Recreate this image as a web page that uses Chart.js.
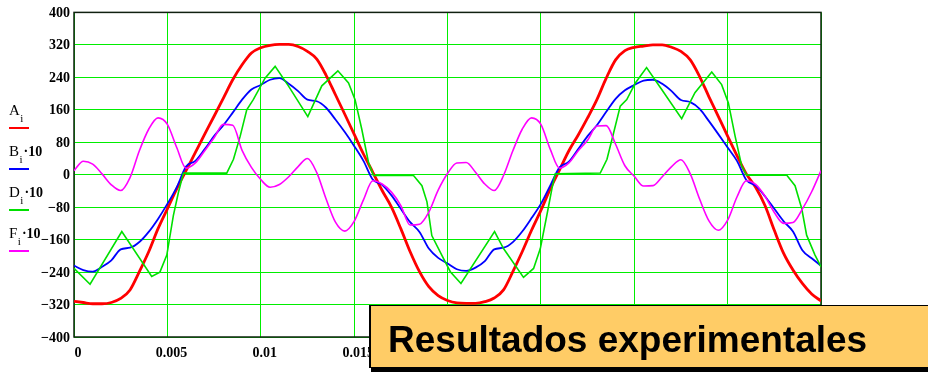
<!DOCTYPE html>
<html>
<head>
<meta charset="utf-8">
<script src="https://cdn.jsdelivr.net/npm/chart.js@4.4.1/dist/chart.umd.min.js"></script>
<style>
  html, body { margin: 0; padding: 0; background: #fff; }
  body { width: 928px; height: 375px; overflow: hidden; position: relative; }
  #chart { position: absolute; left: 0; top: 0; }
  #note {
    position: absolute; left: 369px; top: 305px; width: 600px; height: 61px;
    background: #ffcc66; border: 1px solid #000; border-left-width: 2px;
    box-shadow: 2px 4px 0 #000;
  }
  #note span {
    position: absolute; left: 17px; top: 15px;
    font: bold 37px "Liberation Sans", Arial, sans-serif; line-height: 37px;
    color: #000; white-space: nowrap;
  }
</style>
</head>
<body>
<canvas id="chart" width="928" height="375"></canvas>
<div id="note"><span>Resultados experimentales</span></div>
<script>
// sample times (s) shared by A, B and F
const tA = [0,0.0005,0.001,0.0015,0.002,0.0025,0.003,0.0035,0.004,0.0045,
  0.005,0.0055,0.006,0.0065,0.007,0.0075,0.008,0.0085,0.009,0.0095,
  0.01,0.0105,0.011,0.0115,0.012,0.0125,0.013,0.0135,0.014,0.0145,
  0.015,0.0155,0.016,0.0165,0.017,0.0175,0.018,0.0185,0.019,0.0195,
  0.02,0.0205,0.021,0.0215,0.022,0.0225,0.023,0.0235,0.024,0.0245,
  0.025,0.0255,0.026,0.0265,0.027,0.0275,0.028,0.0285,0.029,0.0295,
  0.03,0.0305,0.031,0.0315,0.032,0.0325,0.033,0.0335,0.034,0.0345,
  0.035,0.0355,0.036,0.0365,0.037,0.0375,0.038,0.0385,0.039,0.0395,0.04];

// A_i
const aVals = [-312,-315,-318,-318,-315,-305,-284,-239,-190,-133,
  -84,-35,10,55,100,144,189,234,271,300,
  313,319,321,321,316,304,285,245,197,149,
  100,51,6,-39,-80,-133,-190,-239,-276,-298,
  -310,-316,-317,-317,-313,-304,-284,-239,-190,-137,
  -88,-35,12,59,98,140,185,238,283,306,
  314,317,320,320,314,304,283,242,192,144,
  95,47,2,-31,-76,-137,-194,-235,-268,-294,-311];

// B_i*10
const bVals = [-224,-235,-239,-227,-211,-184,-180,-166,-141,-109,
  -72,-31,20,34,63,95,122,153,185,210,
  221,234,238,224,206,185,181,165,136,105,
  71,34,-12,-25,-51,-84,-117,-141,-182,-205,
  -219,-233,-237,-229,-213,-184,-180,-166,-140,-107,
  -72,-27,18,32,63,95,122,155,187,208,
  221,232,234,224,206,184,179,162,132,100,
  67,34,-13,-27,-53,-84,-115,-140,-186,-206,-224];

// F_i*10
const fVals = [10,33,26,2,-25,-39,-7,59,112,140,
  124,67,16,29,59,91,124,122,60,18,
  -12,-31,-24,-5,20,40,5,-60,-117,-139,
  -115,-62,-15,-23,-43,-76,-124,-122,-92,-38,
  3,29,30,6,-23,-39,-2,59,112,140,
  124,63,16,29,59,85,120,121,75,22,
  -4,-28,-27,-5,20,37,2,-60,-114,-137,
  -112,-55,-15,-24,-53,-93,-120,-118,-85,-42,10];

// D_i*10 (own break points, it is piecewise straight)
const dTimes = [0,0.00086,0.00256,0.00416,0.0046,0.00497,0.00532,0.00559,0.00586,0.00818,
  0.00854,0.0089,0.00925,0.0096,0.01023,0.01077,0.01148,0.01252,0.01327,0.01413,
  0.0147,0.01505,0.01541,0.01577,0.01604,0.01818,0.01863,0.0189,0.01916,0.0197,
  0.02015,0.02072,0.02252,0.023,0.02407,0.02461,0.02497,0.02532,0.02559,0.02577,
  0.02818,0.02854,0.0289,0.02925,0.0296,0.03006,0.03066,0.03147,0.03254,0.03325,
  0.03415,0.03468,0.03504,0.0354,0.03575,0.03602,0.03816,0.03861,0.03897,0.03923,
  0.03968,0.04];
const dVals = [-231,-270,-140,-251,-240,-198,-101,-44,4,4,
  38,95,160,185,238,267,219,143,219,256,
  226,185,112,30,-2,-2,-27,-67,-150,-199,
  -239,-268,-140,-182,-253,-231,-182,-100,-35,2,
  4,38,104,169,185,226,264,210,138,202,
  253,222,177,95,22,-1,-1,-27,-84,-149,
  -198,-227];

const seriesNames = ['A', 'B', 'D', 'F'];
const seriesScale = ['', '\u00b710', '\u00b710', '\u00b710'];
const seriesColors = ['#ff0000', '#0000ff', '#00e000', '#ff00ff'];

const yMin = -400, yMax = 400, yStep = 80;
const xMin = 0, xMax = 0.04, xStep = 0.005;

function pairs(times, vals) {
  return times.map((t, i) => ({ x: t, y: vals[i] }));
}

// dark frame round the plot
const framePlugin = {
  id: 'frame',
  beforeDatasetsDraw(chart) {
    const { ctx, chartArea: a } = chart;
    ctx.save();
    ctx.strokeStyle = '#102010';
    ctx.lineWidth = 1.5;
    ctx.strokeRect(a.left, a.top, a.right - a.left, a.bottom - a.top);
    ctx.restore();
  }
};

// Mathcad style legend on the left
const sideLegend = {
  id: 'sideLegend',
  afterDraw(chart) {
    const ctx = chart.ctx;
    ctx.save();
    ctx.fillStyle = '#000';
    ctx.textBaseline = 'alphabetic';
    seriesNames.forEach((name, i) => {
      const base = 115 + 41 * i;
      let x = 9;
      ctx.font = '15px "Liberation Serif"';
      ctx.fillText(name, x, base);
      x += ctx.measureText(name).width + 0.5;
      ctx.font = '11px "Liberation Serif"';
      ctx.fillText('i', x, base + 7);
      x += ctx.measureText('i').width + 1;
      if (seriesScale[i]) {
        ctx.font = 'bold 14px "Liberation Serif"';
        ctx.fillText(seriesScale[i], x, base);
      }
      ctx.fillStyle = seriesColors[i];
      ctx.fillRect(9, base + 12, 20, 2);
      ctx.fillStyle = '#000';
    });
    ctx.restore();
  }
};

const gridColor = '#00ee00';
const tickFont = { family: '"Liberation Serif"', size: 14, weight: 'bold' };

new Chart(document.getElementById('chart').getContext('2d'), {
  type: 'line',
  data: {
    datasets: [
      { label: 'A', data: pairs(tA, aVals), borderColor: seriesColors[0], borderWidth: 2.8, order: 4, cubicInterpolationMode: 'monotone' },
      { label: 'B', data: pairs(tA, bVals), borderColor: seriesColors[1], borderWidth: 1.8, order: 3, cubicInterpolationMode: 'monotone' },
      { label: 'D', data: pairs(dTimes, dVals), borderColor: seriesColors[2], borderWidth: 1.6, order: 2, tension: 0 },
      { label: 'F', data: pairs(tA, fVals), borderColor: seriesColors[3], borderWidth: 1.6, order: 1, cubicInterpolationMode: 'monotone' }
    ]
  },
  options: {
    responsive: false,
    animation: false,
    devicePixelRatio: 1,
    elements: { point: { radius: 0 } },
    layout: { padding: { top: 11, right: 107, bottom: 0, left: 0 } },
    plugins: { legend: { display: false }, tooltip: { enabled: false } },
    scales: {
      x: {
        type: 'linear',
        min: xMin,
        max: xMax,
        grid: { color: gridColor, lineWidth: 1, drawTicks: false },
        border: { display: false },
        ticks: {
          stepSize: xStep,
          autoSkip: false,
          maxRotation: 0,
          padding: 8,
          labelOffset: 4,
          color: '#000',
          font: tickFont,
          callback: v => String(parseFloat(v.toFixed(4)))
        },
        afterFit(scale) { scale.height = 38; }
      },
      y: {
        min: yMin,
        max: yMax,
        grid: { color: gridColor, lineWidth: 1, drawTicks: false },
        border: { display: false },
        ticks: {
          stepSize: yStep,
          padding: 4,
          labelOffset: 1,
          color: '#000',
          font: tickFont,
          callback: v => v < 0 ? '\u2212' + (-v) : String(v)
        },
        afterFit(scale) { scale.width = 74; }
      }
    }
  },
  plugins: [framePlugin, sideLegend]
});
</script>
</body>
</html>
